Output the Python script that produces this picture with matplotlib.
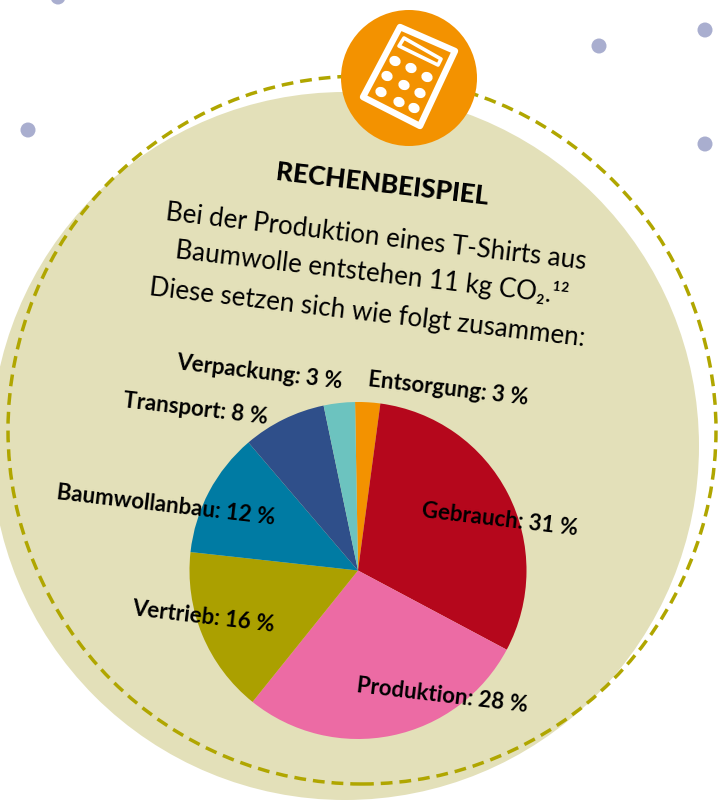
import matplotlib
matplotlib.use('Agg')
import matplotlib.pyplot as plt
from matplotlib.patches import Circle, Ellipse, Polygon

W, H = 728, 803

# clockwise from the top
categories = ['Entsorgung', 'Gebrauch', 'Produktion', 'Vertrieb', 'Baumwollanbau', 'Transport', 'Verpackung']
label_values = [3, 31, 28, 16, 12, 8, 3]
# slice sizes as measured on the pie itself, the printed ones add up to 101
shares = [2.4, 30.7, 28, 16, 12, 8, 3]
colors = ['#f39200', '#b5071c', '#ec6ba4', '#aba000', '#007ba3', '#2f4f8a', '#6cc3bf']

title = 'RECHENBEISPIEL'
body_lines = ['Bei der Produktion eines T-Shirts aus',
              'Baumwolle entstehen 11 kg CO₂.¹²',
              'Diese setzen sich wie folgt zusammen:']

label_x = [448, 500, 442, 203, 166, 195, 259]
label_y = [389, 520, 696, 617, 505, 409, 372]
body_x = [376, 372, 367]
body_y = [237, 273, 313]


def fy(y):
    return H - y


plt.rcParams['font.family'] = ['Lato', 'Noto Sans', 'DejaVu Sans']

fig = plt.figure(figsize=(W / 100, H / 100), dpi=100)
ax = fig.add_axes([0, 0, 1, 1])

# dots
for x, y in [(58, -2), (599, 47), (705, 31), (705, 145), (28, 131)]:
    ax.add_patch(Circle((x, fy(y)), 7.5, fc='#a9aecf', ec='none', zorder=1))

# background blob and dashed ring
ax.add_patch(Circle((345, fy(447)), 354, fc='#e3e0b9', ec='none', zorder=2))
ax.add_patch(Circle((362, fy(431)), 354, fc='none', ec='#b0a600', lw=2.5,
                    ls=(0, (3.4, 2.0)), zorder=3))

# pie
ax.pie(shares, colors=colors, startangle=91, counterclock=False,
       center=(358, fy(571.5)), radius=168.5, frame=True,
       wedgeprops={'linewidth': 0, 'zorder': 4})
ax.set_xlim(0, W)
ax.set_ylim(0, H)
ax.set_aspect('auto')
ax.axis('off')

# orange badge with calculator
ax.add_patch(Circle((409, fy(79)), 68, fc='#f39200', ec='none', zorder=5))
body = [(400, 28), (455, 52), (420, 127), (363, 98)]
display = [(404, 39), (441, 60), (438, 66), (399, 47)]
for pts, lw in [(body, 4.6), (display, 2.6)]:
    ax.add_patch(Polygon([(x, fy(y)) for x, y in pts], closed=True, fc='none', ec='white',
                         lw=lw, joinstyle='round', zorder=6))
for x, y in [(395, 62), (411, 69), (427, 78), (387, 77), (404, 86),
             (420, 94), (381, 93), (399, 103), (414, 109)]:
    ax.add_patch(Ellipse((x, fy(y)), 11.5, 10, angle=-24, fc='white', ec='none', zorder=6))

# texts
ax.text(382, fy(185), title, fontsize=19, fontweight='black', rotation=-6.7,
        rotation_mode='anchor', ha='center', va='center', color='black', zorder=7)
for s, x, y in zip(body_lines, body_x, body_y):
    ax.text(x, fy(y), s, fontsize=18.7, rotation=-6.7, rotation_mode='anchor',
            ha='center', va='center', color='black', zorder=7)
for name, v, x, y in zip(categories, label_values, label_x, label_y):
    ax.text(x, fy(y), f'{name}: {v}\u202f%', fontsize=16, fontweight='bold', rotation=-6.7,
            rotation_mode='anchor', ha='center', va='center', color='black', zorder=7)

fig.savefig('out.png', dpi=100)
